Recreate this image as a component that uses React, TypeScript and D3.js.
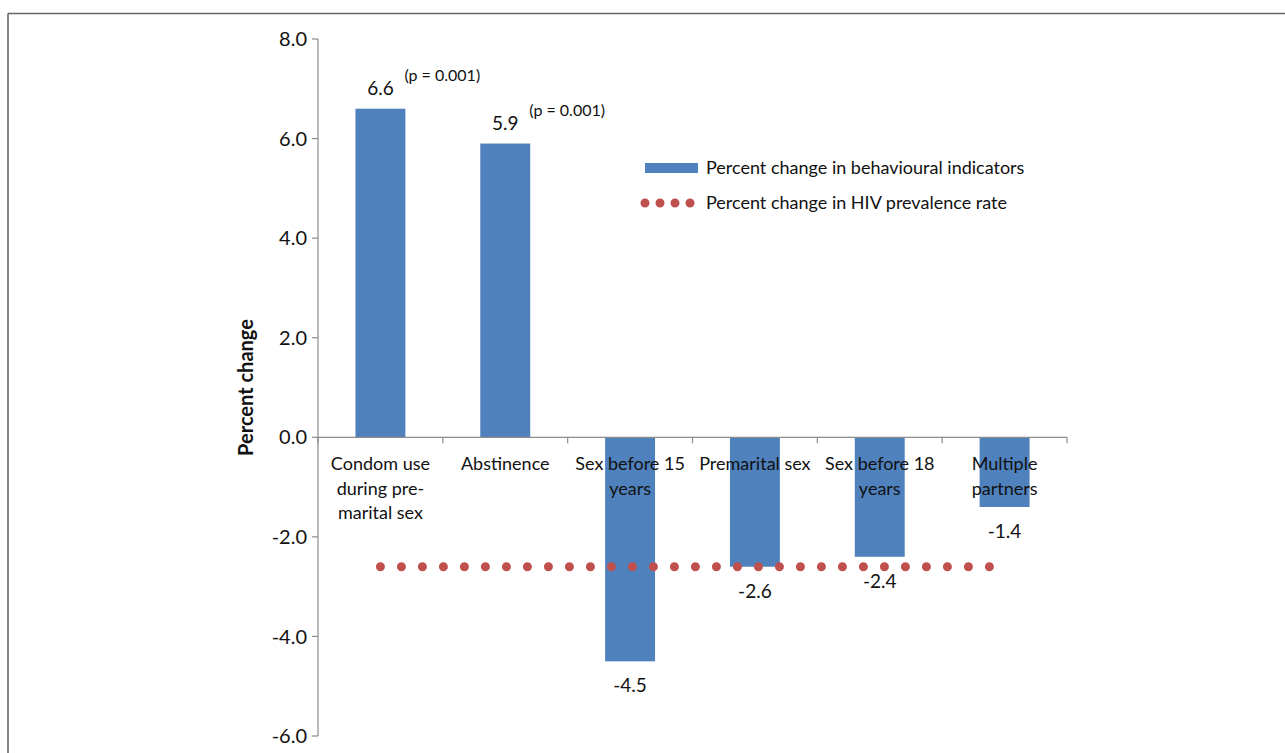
import React from "react";
import * as d3 from "d3";

const categories = ["Condom use during pre-marital sex", "Abstinence", "Sex before 15 years", "Premarital sex", "Sex before 18 years", "Multiple partners"];
const categoryLines = [["Condom use", "during pre-", "marital sex"], ["Abstinence"], ["Sex before 15", "years"], ["Premarital sex"], ["Sex before 18", "years"], ["Multiple", "partners"]];
const behaviourValues = [6.6, 5.9, -4.5, -2.6, -2.4, -1.4];
const hivValues = [-2.6, -2.6, -2.6, -2.6, -2.6, -2.6];
const pNotes = ["(p = 0.001)", "(p = 0.001)", "", "", "", ""];
const yTicks = [-6, -4, -2, 0, 2, 4, 6, 8];
const legendLabels = ["Percent change in behavioural indicators", "Percent change in HIV prevalence rate"];

const BAR = "#4F81BD";
const DOT = "#C0504D";
const AXIS = "#8c8c8c";
const FONT = "Lato, 'Open Sans', sans-serif";

const fmt = (v: number) => d3.format(".1f")(v).replace("\u2212", "-");

export default function App() {
  const W = 1285, H = 753;
  const y = d3.scaleLinear().domain([-6, 8]).range([736, 39]);
  const x = d3.scaleBand<string>().domain(categories).range([318, 1067]).paddingInner(0.6).paddingOuter(0.3);
  const step = x.step();
  const bw = x.bandwidth();
  const cx = (c: string) => (x(c) as number) + bw / 2;
  const y0 = y(0);
  const line = d3.line<number>().x((_, i) => cx(categories[i])).y((v) => y(v));

  return (
    <svg width={W} height={H} style={{ position: "absolute", left: 0, top: 0, background: "#fff" }} fontFamily={FONT}>
      <rect x={0} y={0} width={W} height={H} fill="#fff" />
      {/* frame */}
      <line x1={8} y1={13.5} x2={W} y2={13.5} stroke="#666" strokeWidth={1.6} />
      <line x1={8} y1={13.5} x2={8} y2={H} stroke="#666" strokeWidth={1.6} />

      {/* bars */}
      {categories.map((c, i) => {
        const v = behaviourValues[i];
        const top = Math.min(y(v), y0);
        return <rect key={c} x={x(c)} y={top} width={bw} height={Math.abs(y(v) - y0)} fill={BAR} />;
      })}

      {/* y axis */}
      <line x1={318} y1={y(8)} x2={318} y2={y(-6)} stroke={AXIS} strokeWidth={1.2} />
      {yTicks.map((t) => (
        <g key={t}>
          <line x1={312} x2={318} y1={y(t)} y2={y(t)} stroke={AXIS} strokeWidth={1.2} />
          <text x={307} y={y(t)} dy="0.36em" textAnchor="end" fontSize={20} fill="#111">
            {fmt(t)}
          </text>
        </g>
      ))}

      {/* x axis */}
      <line x1={318} x2={1067} y1={y0} y2={y0} stroke={AXIS} strokeWidth={1.2} />
      {d3.range(categories.length + 1).map((k) => (
        <line key={k} x1={318 + k * step} x2={318 + k * step} y1={y0} y2={y0 + 6} stroke={AXIS} strokeWidth={1.2} />
      ))}

      {/* category labels */}
      {categories.map((c, i) => (
        <text key={c} textAnchor="middle" fontSize={18} fill="#111">
          {categoryLines[i].map((l, j) => (
            <tspan key={j} x={cx(c)} y={y0 + 33 + j * 24.5}>
              {l}
            </tspan>
          ))}
        </text>
      ))}

      {/* HIV dotted line */}
      <path d={line(hivValues) as string} fill="none" stroke={DOT} strokeWidth={9} strokeLinecap="round" strokeDasharray="0 21" />

      {/* value labels */}
      {categories.map((c, i) => {
        const v = behaviourValues[i];
        const ly = v >= 0 ? y(v) - 14 : y(v) + 31;
        return (
          <g key={c}>
            <text x={cx(c)} y={ly} textAnchor="middle" fontSize={19} fill="#111">
              {fmt(v)}
            </text>
            {pNotes[i] && (
              <text x={cx(c) + 24} y={ly - 14} fontSize={16} fill="#111">
                {pNotes[i]}
              </text>
            )}
          </g>
        );
      })}

      {/* y title */}
      <text transform={`translate(253, ${(y(8) + y(-6)) / 2}) rotate(-90)`} textAnchor="middle" fontSize={20} fontWeight="bold" fill="#111">
        Percent change
      </text>

      {/* legend */}
      <rect x={645} y={163} width={53} height={10} fill={BAR} />
      <text x={706} y={168} dy="0.36em" fontSize={18} fill="#111">
        {legendLabels[0]}
      </text>
      <line x1={645} x2={698} y1={203} y2={203} stroke={DOT} strokeWidth={9} strokeLinecap="round" strokeDasharray="0 15" />
      <text x={706} y={203} dy="0.36em" fontSize={18} fill="#111">
        {legendLabels[1]}
      </text>
    </svg>
  );
}
